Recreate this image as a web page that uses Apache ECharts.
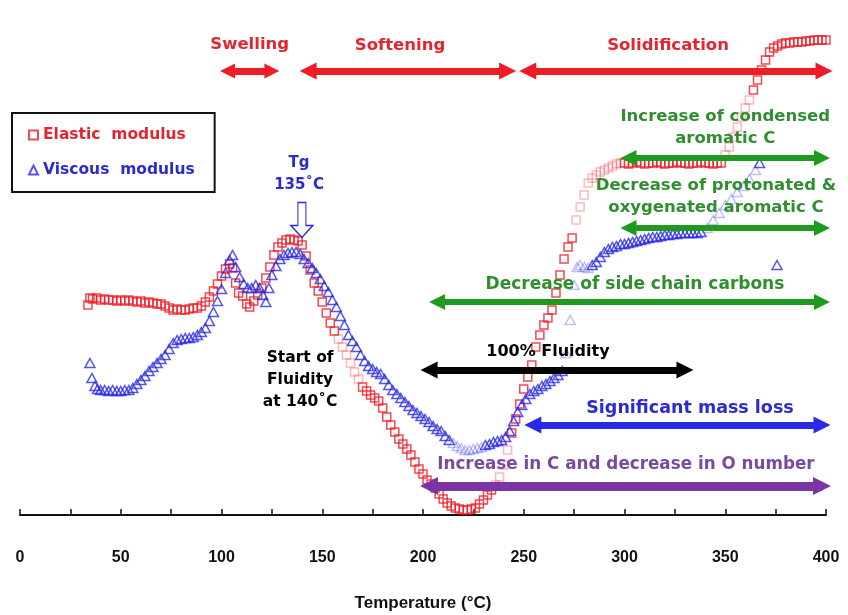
<!DOCTYPE html>
<html><head><meta charset="utf-8">
<script src="https://cdn.jsdelivr.net/npm/echarts@6/dist/echarts.min.js"></script>
<style>html,body{margin:0;padding:0;background:#fff}#c{width:848px;height:615px}</style>
</head><body><div id="c"></div>
<script>
// ---- Data (temperature in °C, modulus in relative log units) ----
const elasticT = [33.7,34.7,36,38,40,42,44,46,48,50,52,54,56,58,60,62,64,66,68,70,72,74,76,78,80,82,84,86,88,90,92,94,96,98,100,102,104,105.5,107,108.5,110.5,112.5,114,116,118,120,122,124,126,128,130,132,134,136,138,140,142,144,146,148,150,152,154,156,158,160,162,164,166,168,170,172,174,176,178,180,182,184,186,188,190,192,194,196,198,200,202,204,206,208,210,212,214,216,218,220,222,224,226,228,230,232,234,236,238,240,242,244,246,248,250,252,254,256,258,260,262,264,266,268,270,272,274,276,278,280,282,284,286,288,290,292,294,296,298,300,302,304,306,308,310,312,314,316,318,320,322,324,326,328,330,332,334,336,338,340,342,344,346,348,350,352,354,356,358,360,362,364,366,368,370,372,374,376,378,380,382,384,386,388,390,392,394,396,398,400];
const elasticV = [2.10,2.17,2.16,2.17,2.15,2.16,2.15,2.15,2.14,2.15,2.14,2.15,2.14,2.13,2.14,2.12,2.13,2.12,2.11,2.11,2.09,2.07,2.05,2.06,2.05,2.05,2.06,2.07,2.07,2.09,2.13,2.18,2.24,2.31,2.39,2.46,2.51,2.47,2.32,2.22,2.19,2.11,2.08,2.14,2.20,2.27,2.37,2.48,2.60,2.68,2.72,2.75,2.76,2.75,2.74,2.70,2.59,2.45,2.32,2.24,2.13,2.02,1.92,1.84,1.76,1.68,1.60,1.52,1.43,1.36,1.28,1.24,1.20,1.17,1.14,1.07,0.98,0.90,0.83,0.76,0.71,0.66,0.60,0.53,0.46,0.41,0.35,0.31,0.27,0.21,0.16,0.12,0.09,0.07,0.06,0.05,0.05,0.06,0.07,0.11,0.15,0.20,0.25,0.30,0.38,0.50,0.65,0.82,0.96,1.11,1.26,1.38,1.50,1.68,1.80,1.90,1.97,2.05,2.22,2.40,2.56,2.68,2.77,2.95,3.08,3.20,3.32,3.37,3.40,3.43,3.45,3.47,3.49,3.51,3.52,3.52,3.51,3.52,3.53,3.52,3.51,3.52,3.52,3.53,3.52,3.51,3.52,3.52,3.53,3.52,3.52,3.51,3.52,3.52,3.53,3.52,3.52,3.51,3.52,3.52,3.60,3.68,3.78,3.88,3.98,4.07,4.15,4.25,4.35,4.45,4.55,4.63,4.67,4.69,4.71,4.72,4.72,4.73,4.73,4.73,4.74,4.74,4.75,4.75,4.75,4.75];
const viscousT = [34.7,35.7,37.2,38.5,40,42,44,46,48,50,52,54,56,58,60,62,64,66,68,70,72,74,76,78,80,82,84,86,88,90,92,94,96,98,100,102,104,105.5,107,109,111,113,115,117,119,120.5,122,123.5,125,127,129,131,133,135,137,139,141,143,145,147,149,151,153,155,157,159,161,163,165,167,169,171,173,175,177,179,181,183,185,187,189,191,193,195,197,199,201,203,205,207,209,211,213,215,217,219,221,223,225,227,229,231,233,235,237,239,241,243,245,247,249,251,253,255,257,259,261,263,265,267,269,271,273,275,276.5,278,280,282,284,286,288,290,292,294,296,298,300,302,304,306,308,310,312,314,316,318,320,322,324,326,328,330,332,334,336,338,341,344,347,350,353,356,359,362,365,367,375.7];
const viscousV = [1.52,1.37,1.29,1.26,1.25,1.25,1.24,1.25,1.24,1.24,1.25,1.25,1.27,1.31,1.35,1.39,1.44,1.48,1.52,1.56,1.60,1.66,1.72,1.75,1.76,1.77,1.77,1.78,1.80,1.83,1.87,1.94,2.03,2.14,2.26,2.42,2.55,2.60,2.48,2.38,2.31,2.27,2.27,2.30,2.27,2.20,2.13,2.27,2.40,2.49,2.56,2.60,2.62,2.63,2.63,2.61,2.56,2.52,2.47,2.42,2.36,2.29,2.23,2.15,2.08,1.99,1.90,1.80,1.74,1.68,1.60,1.54,1.49,1.46,1.43,1.41,1.36,1.30,1.25,1.21,1.17,1.13,1.09,1.05,1.02,0.99,0.96,0.93,0.89,0.86,0.84,0.79,0.75,0.72,0.69,0.67,0.65,0.65,0.66,0.67,0.68,0.70,0.71,0.73,0.74,0.75,0.78,0.84,0.94,1.03,1.10,1.16,1.21,1.24,1.26,1.29,1.31,1.34,1.37,1.40,1.44,1.62,1.95,2.30,2.48,2.50,2.48,2.47,2.50,2.53,2.58,2.63,2.66,2.68,2.69,2.71,2.71,2.72,2.73,2.74,2.75,2.76,2.77,2.78,2.78,2.79,2.80,2.80,2.81,2.81,2.82,2.82,2.82,2.82,2.82,2.83,2.87,2.95,3.02,3.10,3.16,3.23,3.29,3.36,3.45,3.52,2.50];
const xTickLabels = ['0','50','100','150','200','250','300','350','400'];
const seriesNames = ['Elastic modulus','Viscous modulus'];

// temperature ranges where the markers in the picture are faint
const elasticFaint = [[157,169],[236,243],[275,299],[349,362]];
const viscousFaint = [[215,229],[270,283],[340,366]];

const RED = '#ee1c25', BLUE = '#2a2ae6', GREEN = '#1f9a1f', PURPLE = '#7a35a5', BLACK = '#000';
const TXT_RED = '#e3262e', TXT_BLUE = '#2b2bd0', TXT_GREEN = '#2f8f2f', TXT_PURPLE = '#7a4a9e';
const FONT = 'DejaVu Sans, Verdana, sans-serif';
const AXFONT = 'Liberation Sans, Arial, sans-serif';

function build(ts, vs, faint) {
  return ts.map((t, i) => {
    const f = faint.some(r => t >= r[0] && t <= r[1]);
    return f ? { value: [t, vs[i]], itemStyle: { opacity: 0.3 } } : { value: [t, vs[i]] };
  });
}

// annotation arrows: [fromT, toT, level, color, width, head]
const arrows = [
  [103, 125, 4.44, RED, 7, 15],
  [143, 242, 4.44, RED, 7, 17],
  [252, 399, 4.44, RED, 7, 17],
  [302, 398, 3.57, GREEN, 6, 16],
  [302, 398, 2.87, GREEN, 6, 16],
  [207, 398, 2.13, GREEN, 6, 16],
  [203, 330, 1.45, BLACK, 7, 17],
  [254.5, 398, 0.90, BLUE, 7, 17],
  [203, 398, 0.29, PURPLE, 9, 18]
];
// annotation texts: [text, T, v, color, size]
const texts = [
  ['Swelling', 114, 4.70, TXT_RED, 16.5],
  ['Softening', 188.6, 4.69, TXT_RED, 16.5],
  ['Solidification', 321.6, 4.69, TXT_RED, 16.5],
  ['Increase of condensed\naromatic C', 350, 3.87, TXT_GREEN, 16.5],
  ['Decrease of protonated &\noxygenated aromatic C', 345.4, 3.18, TXT_GREEN, 16.5],
  ['Decrease of side chain carbons', 305.2, 2.30, TXT_GREEN, 17],
  ['100% Fluidity', 262, 1.63, BLACK, 16],
  ['Significant mass loss', 332.5, 1.07, TXT_BLUE, 17.5],
  ['Increase in C and decrease in O number', 300.7, 0.50, TXT_PURPLE, 16.8],
  ['Tg\n135˚C', 138.5, 3.41, TXT_BLUE, 15],
  ['Start of\nFluidity\nat 140˚C', 139, 1.35, BLACK, 15.5]
];

const chart = echarts.init(document.getElementById('c'), null, { renderer: 'canvas' });
chart.setOption({
  animation: false,
  backgroundColor: '#fff',
  grid: { left: 20, right: 22, top: 15, bottom: 100, containLabel: false, outerBoundsMode: 'none' },
  legend: {
    orient: 'vertical', left: 12, top: 113,
    padding: [14, 20, 14, 16], itemGap: 19,
    borderColor: '#111', borderWidth: 2,
    itemWidth: 9, itemHeight: 9, itemTextGap: 10,
    formatter: n => n.replace(' ', '  '),
    textStyle: { fontFamily: FONT, fontSize: 15.5, fontWeight: 'bold' },
    data: [
      { name: seriesNames[0], textStyle: { color: TXT_RED } },
      { name: seriesNames[1], textStyle: { color: TXT_BLUE } }
    ]
  },
  xAxis: {
    type: 'value', min: 0, max: 400, interval: 25,
    name: 'Temperature (°C)', nameLocation: 'middle', nameGap: 80,
    nameTextStyle: { fontFamily: AXFONT, fontSize: 17, fontWeight: 'bold', color: '#111' },
    axisLine: { lineStyle: { color: '#111', width: 2 } },
    axisTick: { inside: true, length: 6, lineStyle: { color: '#111', width: 1.5 } },
    splitLine: { show: false },
    axisLabel: {
      margin: 35, fontFamily: AXFONT, fontSize: 16, fontWeight: 'bold', color: '#111',
      showMinLabel: true, showMaxLabel: true,
      formatter: v => (v % 50 === 0 ? xTickLabels[v / 50] : '')
    }
  },
  yAxis: { type: 'value', min: 0, max: 5, show: false },
  series: [
    {
      name: seriesNames[0], type: 'scatter', symbol: 'rect', symbolSize: 8,
      itemStyle: { color: 'rgba(255,255,255,0)', borderColor: RED, borderWidth: 1.5 },
      data: build(elasticT, elasticV, elasticFaint), z: 3
    },
    {
      name: seriesNames[1], type: 'scatter', symbol: 'triangle', symbolSize: [10, 9],
      itemStyle: { color: 'rgba(255,255,255,0)', borderColor: BLUE, borderWidth: 1.5 },
      data: build(viscousT, viscousV, viscousFaint), z: 4
    },
    {
      name: 'annotations', type: 'line', data: [], silent: true, z: 5,
      markLine: {
        silent: true, symbol: ['triangle', 'triangle'], symbolSize: 16,
        label: { show: false },
        data: arrows.map(a => [
          { coord: [a[0], a[2]], symbolSize: a[5], lineStyle: { color: a[3], width: a[4], type: 'solid' }, itemStyle: { color: a[3] } },
          { coord: [a[1], a[2]], symbolSize: a[5] }
        ])
      },
      markPoint: {
        silent: true,
        data: texts.map(t => ({
          coord: [t[1], t[2]], symbol: 'rect', symbolSize: 0,
          itemStyle: { color: 'rgba(0,0,0,0)' },
          label: {
            show: true, position: 'inside', formatter: t[0], color: t[3],
            fontFamily: FONT, fontSize: t[4], fontWeight: 'bold', lineHeight: 22, align: 'center'
          }
        })).concat([{
          coord: [139.9, 2.95], symbol: 'path://M7,0 L15,0 L15,23 L22,23 L11,35 L0,23 L7,23 Z',
          symbolSize: [22, 35], itemStyle: { color: '#fff', borderColor: BLUE, borderWidth: 1.3 },
          label: { show: false }
        }])
      }
    }
  ]
});
</script>
</body></html>
